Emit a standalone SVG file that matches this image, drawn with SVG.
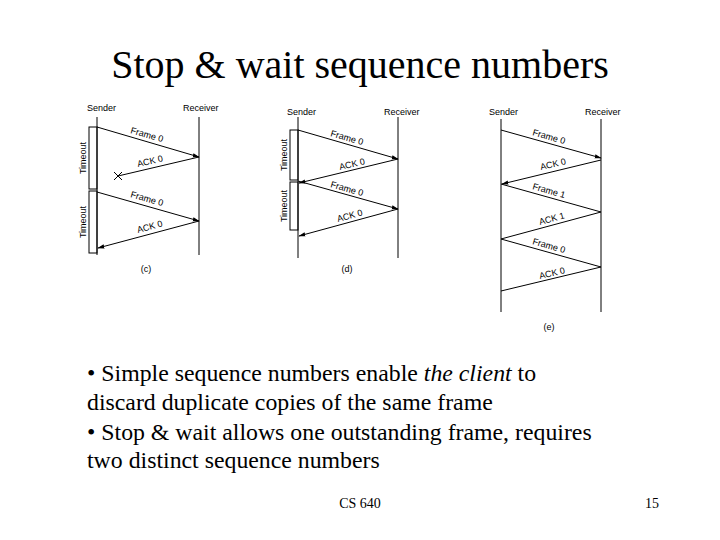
<svg xmlns="http://www.w3.org/2000/svg" width="720" height="540" viewBox="0 0 720 540">
<style>
.l{stroke:#000;stroke-width:1;fill:none}
.t{font-family:"Liberation Sans",Arial,sans-serif;font-size:9px;fill:#000}
.s{font-family:"Liberation Serif","Times New Roman",serif;fill:#000}
.b{fill:#fff;stroke:#000;stroke-width:1}
</style>
<defs><marker id="a" viewBox="0 0 10 10" refX="9" refY="5" markerWidth="7" markerHeight="7" orient="auto"><path d="M0,2L10,5L0,8z" fill="#000"/></marker></defs>
<rect width="720" height="540" fill="#fff"/>
<text class="s" x="360" y="78" font-size="40" text-anchor="middle">Stop &amp; wait sequence numbers</text>
<g id="panel-c">
<text class="t" x="87" y="111">Sender</text><text class="t" x="183" y="111">Receiver</text>
<rect class="b" x="89" y="127" width="8" height="62"/><rect class="b" x="89" y="191" width="8" height="62"/>
<text class="t" transform="translate(86,158) rotate(-90)" text-anchor="middle">Timeout</text>
<text class="t" transform="translate(86,222) rotate(-90)" text-anchor="middle">Timeout</text>
<line class="l" x1="97" y1="117" x2="97" y2="255" stroke-width="2"/><line class="l" x1="199" y1="117" x2="199" y2="255"/>
</g>
<g id="panel-d">
<text class="t" x="287" y="115">Sender</text><text class="t" x="384" y="115">Receiver</text>
<rect class="b" x="290" y="130" width="8" height="50"/><rect class="b" x="290" y="182" width="8" height="48"/>
<text class="t" transform="translate(287,155) rotate(-90)" text-anchor="middle">Timeout</text>
<text class="t" transform="translate(287,206) rotate(-90)" text-anchor="middle">Timeout</text>
<line class="l" x1="298" y1="117" x2="298" y2="258"/><line class="l" x1="398" y1="117" x2="398" y2="258"/>
</g>
<g id="panel-e">
<text class="t" x="489" y="115">Sender</text><text class="t" x="585" y="115">Receiver</text>
<line class="l" x1="501" y1="119" x2="501" y2="312"/><line class="l" x1="601" y1="119" x2="601" y2="312"/>
</g>
<g id="connectors">
<line class="l" x1="97" y1="127" x2="199" y2="157" marker-end="url(#a)"/>
<line class="l" x1="199" y1="157" x2="118" y2="176"/>
<path class="l" d="M114,172L122,180M114,180L122,172"/>
<line class="l" x1="97" y1="192" x2="199" y2="221" marker-end="url(#a)"/>
<line class="l" x1="199" y1="221" x2="98" y2="248" marker-end="url(#a)"/>
<line class="l" x1="298" y1="130" x2="398" y2="159" marker-end="url(#a)"/>
<line class="l" x1="398" y1="159" x2="299" y2="183" marker-end="url(#a)"/>
<line class="l" x1="298" y1="181" x2="398" y2="209" marker-end="url(#a)"/>
<line class="l" x1="398" y1="209" x2="299" y2="236" marker-end="url(#a)"/>
<line class="l" x1="501" y1="130" x2="601" y2="158" marker-end="url(#a)"/>
<line class="l" x1="601" y1="160" x2="502" y2="184" marker-end="url(#a)"/>
<line class="l" x1="501" y1="184" x2="601" y2="212"/>
<line class="l" x1="601" y1="212" x2="501" y2="239"/>
<line class="l" x1="501" y1="239" x2="601" y2="267"/>
<line class="l" x1="601" y1="267" x2="501" y2="291"/>
</g>
<g id="labels" class="t">
<text class="t" transform="translate(130,133) rotate(16)">Frame 0</text>
<text class="t" transform="translate(138,167) rotate(-13)">ACK 0</text>
<text class="t" transform="translate(130,197) rotate(16)">Frame 0</text>
<text class="t" transform="translate(138,233) rotate(-15)">ACK 0</text>
<text class="t" x="146" y="272" text-anchor="middle">(c)</text>
<text class="t" transform="translate(330,136) rotate(16)">Frame 0</text>
<text class="t" transform="translate(340,170) rotate(-13)">ACK 0</text>
<text class="t" transform="translate(330,187) rotate(16)">Frame 0</text>
<text class="t" transform="translate(338,222) rotate(-15)">ACK 0</text>
<text class="t" x="347" y="272" text-anchor="middle">(d)</text>
<text class="t" transform="translate(532,135) rotate(16)">Frame 0</text>
<text class="t" transform="translate(541,170) rotate(-13)">ACK 0</text>
<text class="t" transform="translate(532,189) rotate(16)">Frame 1</text>
<text class="t" transform="translate(540,225) rotate(-15)">ACK 1</text>
<text class="t" transform="translate(532,244) rotate(16)">Frame 0</text>
<text class="t" transform="translate(540,279) rotate(-13)">ACK 0</text>
<text class="t" x="549" y="330" text-anchor="middle">(e)</text>
</g>
<g class="s" font-size="23.8">
<text class="s" x="87" y="381">• Simple sequence numbers enable <tspan font-style="italic">the client</tspan> to</text>
<text class="s" x="87" y="410">discard duplicate copies of the same frame</text>
<text class="s" x="87" y="440">• Stop &amp; wait allows one outstanding frame, requires</text>
<text class="s" x="87" y="468">two distinct sequence numbers</text>
</g>
<text class="s" x="360" y="508" font-size="14" text-anchor="middle">CS 640</text>
<text class="s" x="659" y="508" font-size="14" text-anchor="end">15</text>
</svg>
